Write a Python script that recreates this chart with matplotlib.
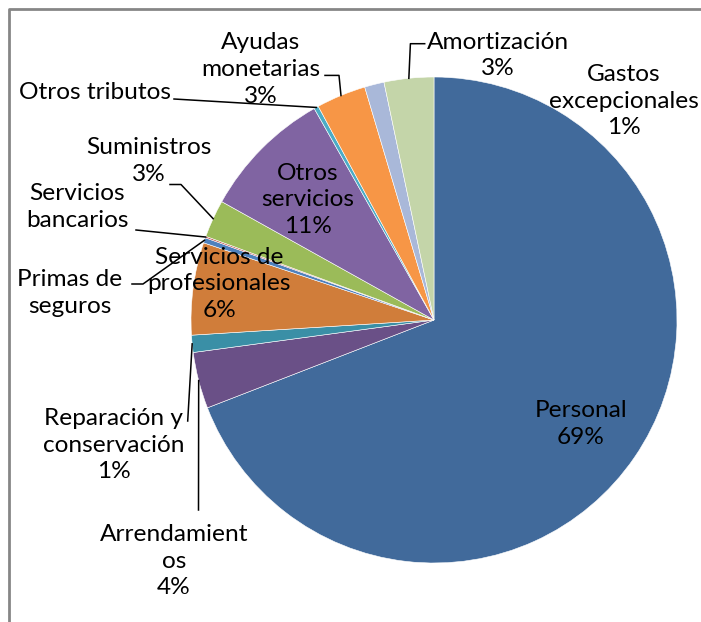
import numpy as np
import matplotlib
matplotlib.use("Agg")
import matplotlib.pyplot as plt

plt.rcParams['font.family'] = ['Lato', 'DejaVu Sans']

categories = ['Personal', 'Arrendamientos', 'Reparación y conservación',
              'Servicios de profesionales', 'Primas de seguros', 'Servicios bancarios',
              'Suministros', 'Otros servicios', 'Otros tributos', 'Ayudas monetarias',
              'Gastos excepcionales', 'Amortización']
values = [69.1, 3.75, 1.14, 6.14, 0.35, 0.1, 2.5, 8.7, 0.3, 3.3, 1.3, 3.3]
label_texts = ['Personal\n69%', 'Arrendamient\nos\n4%', 'Reparación y\nconservación\n1%',
               'Servicios de\nprofesionales\n6%', 'Primas de\nseguros', 'Servicios\nbancarios',
               'Suministros\n3%', 'Otros\nservicios\n11%', 'Otros tributos',
               'Ayudas\nmonetarias\n3%', 'Gastos\nexcepcionales\n1%', 'Amortización\n3%']
colors = ['#416A9B', '#6A5087', '#3A8FA6', '#D07D3A', '#4F81BD', '#C0504D',
          '#9BBB59', '#8064A2', '#4BACC6', '#F79646', '#A9B8D9', '#C4D5A9']

W, H = 701, 622
fig = plt.figure(figsize=(W / 100, H / 100), dpi=100)
ax = fig.add_axes([0, 0, 1, 1])
ax.set_xlim(0, W)
ax.set_ylim(0, H)
ax.set_aspect('equal')
ax.axis('off')

def P(x, y):
    return x, H - y

cx, cy = P(434, 320)
R = 243
wedges, _ = ax.pie(values, colors=colors, startangle=90, counterclock=False,
                   center=(cx, cy), radius=R, frame=True,
                   wedgeprops=dict(edgecolor='white', linewidth=0.4))
ax.set_xlim(0, W)
ax.set_ylim(0, H)
ax.axis('off')

# border
ax.plot([9, 9, W + 5], [-5, H - 9, H - 9], color='#868686', lw=2, solid_capstyle='butt')

# label positions (pixel coords of text centers)
label_pos = [(581, 424), (174, 561), (114, 445), (219, 284), (70, 293), (77, 207),
             (149, 161), (308, 200), (95, 92.5), (261, 69.4), (623.6, 101), (498, 55.5)]
# leader line elbows (pixel coords), ending at the wedge's mid-angle edge
leaders = {1: [(198.5, 510)], 2: [(187.7, 421)], 4: [(132, 284), (143, 284)],
           5: [(136, 230)], 6: [(170, 184.5), (181, 184.5)], 8: [(174, 99)],
           9: [(325, 75.4), (339, 75.4)], 11: [(424.7, 43.7), (410.4, 43.7)]}

for i, w in enumerate(wedges):
    tx, ty = P(*label_pos[i])
    ax.text(tx, ty, label_texts[i], ha='center', va='center', fontsize=17.6,
            linespacing=1.34, color='black', zorder=5)
    if i in leaders:
        th = np.deg2rad((w.theta1 + w.theta2) / 2)
        ax_ = cx + R * np.cos(th)
        ay_ = cy + R * np.sin(th)
        pts = [P(*p) for p in leaders[i]] + [(ax_, ay_)]
        xs, ys = zip(*pts)
        ax.plot(xs, ys, color='black', lw=1.1, zorder=4)

fig.savefig('out.png', dpi=100)
